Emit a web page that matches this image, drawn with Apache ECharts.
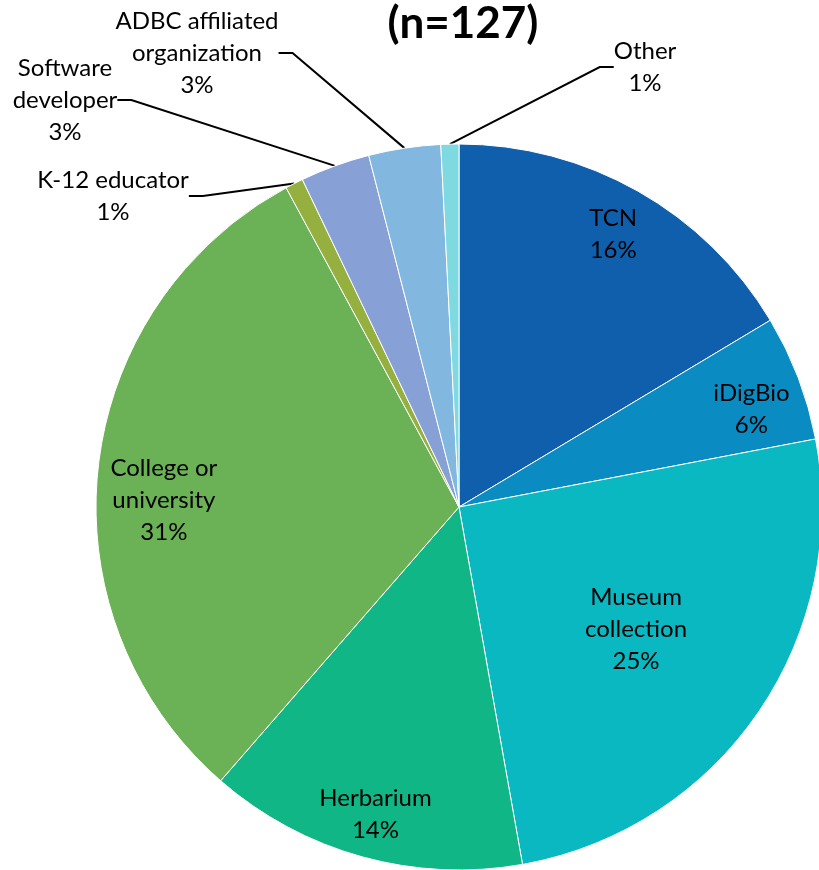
<!DOCTYPE html>
<html>
<head>
<meta charset="utf-8">
<script src="https://cdn.jsdelivr.net/npm/echarts@6/dist/echarts.min.js"></script>
<style>
  html, body { margin: 0; padding: 0; background: #fff; }
  #chart { width: 819px; height: 870px; }
</style>
</head>
<body>
<div id="chart"></div>
<script>
// shares (percent of respondents)
const categories = ["TCN", "iDigBio", "Museum collection", "Herbarium", "College or university",
  "K-12 educator", "Software developer", "ADBC affiliated organization", "Other"];
const labelText = ["TCN", "iDigBio", "Museum\ncollection", "Herbarium", "College or\nuniversity",
  "K-12 educator", "Software\ndeveloper", "ADBC affiliated\norganization", "Other"];
const shares = [16.4, 5.6, 25.2, 14.2, 30.7, 0.8, 3.1, 3.2, 0.8];
const colors = ["#0f5fad", "#0a8bc1", "#0ab8c2", "#10b685", "#6bb155",
  "#95b03f", "#87a1d6", "#82b7e0", "#7fd9e0"];
const titleText = "(n=127)";

let chart = echarts.init(document.getElementById("chart"));

const CENTER = [459, 507];
const FONT = "Lato, 'Open Sans', sans-serif";

// where the callout labels sit (Excel put them by hand)
const calloutSpot = {
  "K-12 educator": [113, 196],
  "Software developer": [65, 100],
  "ADBC affiliated organization": [197, 53],
  "Other": [645, 67]
};
// inside labels: which overlay ring carries them, plus small nudges
const farRing = ["TCN", "iDigBio", "Herbarium", "College or university"];
const nearRing = ["Museum collection"];
const nudge = { "College or university": [16, 28], "iDigBio": [0, 14], "Herbarium": [0, 6] };

function fmt(params) {
  let lines = labelText[params.dataIndex].split("\n");
  lines.push(Math.round(params.percent) + "%");
  return lines.map(l => "{a|" + l + "}").join("\n");
}

const labelBase = {
  color: "#000",
  fontFamily: FONT,
  fontSize: 24,
  lineHeight: 32,
  formatter: fmt,
  rich: { a: { fontFamily: FONT, fontSize: 24, lineHeight: 32, color: "#000", align: "center" } }
};

function overlay(radius, names) {
  return {
    type: "pie",
    center: CENTER,
    radius: [0, radius],
    silent: true,
    z: 5,
    emphasis: { disabled: true },
    itemStyle: { color: "transparent", borderWidth: 0 },
    labelLine: { show: false },
    labelLayout: function (params) {
      const n = nudge[categories[params.dataIndex]];
      return n ? { dx: n[0], dy: n[1] } : {};
    },
    data: categories.map((c, i) => ({
      name: c,
      value: shares[i],
      label: Object.assign({}, labelBase, { show: names.includes(c), position: "inside" })
    }))
  };
}

let option = {
  animation: false,
  title: {
    text: titleText,
    left: 458,
    textAlign: "center",
    top: -3,
    textStyle: { fontFamily: FONT, fontSize: 44, fontWeight: "bold", color: "#000" }
  },
  series: [
    {
      type: "pie",
      center: CENTER,
      radius: [0, 363],
      startAngle: 90,
      clockwise: true,
      avoidLabelOverlap: false,
      emphasis: { disabled: true },
      itemStyle: { borderColor: "#fff", borderWidth: 1 },
      labelLine: { show: true, length: 10, length2: 14, lineStyle: { color: "#000", width: 2 } },
      labelLayout: function (params) {
        const p = calloutSpot[categories[params.dataIndex]];
        if (!p) return {};
        return { x: p[0], y: p[1], align: "center", verticalAlign: "middle" };
      },
      data: categories.map((c, i) => ({
        name: c,
        value: shares[i],
        itemStyle: { color: colors[i] },
        label: Object.assign({}, labelBase, { show: !!calloutSpot[c], position: "outside" }),
        labelLine: { show: !!calloutSpot[c] }
      }))
    },
    overlay(620, farRing),
    overlay(424, nearRing)
  ]
};

chart.setOption(option);
</script>
</body>
</html>
